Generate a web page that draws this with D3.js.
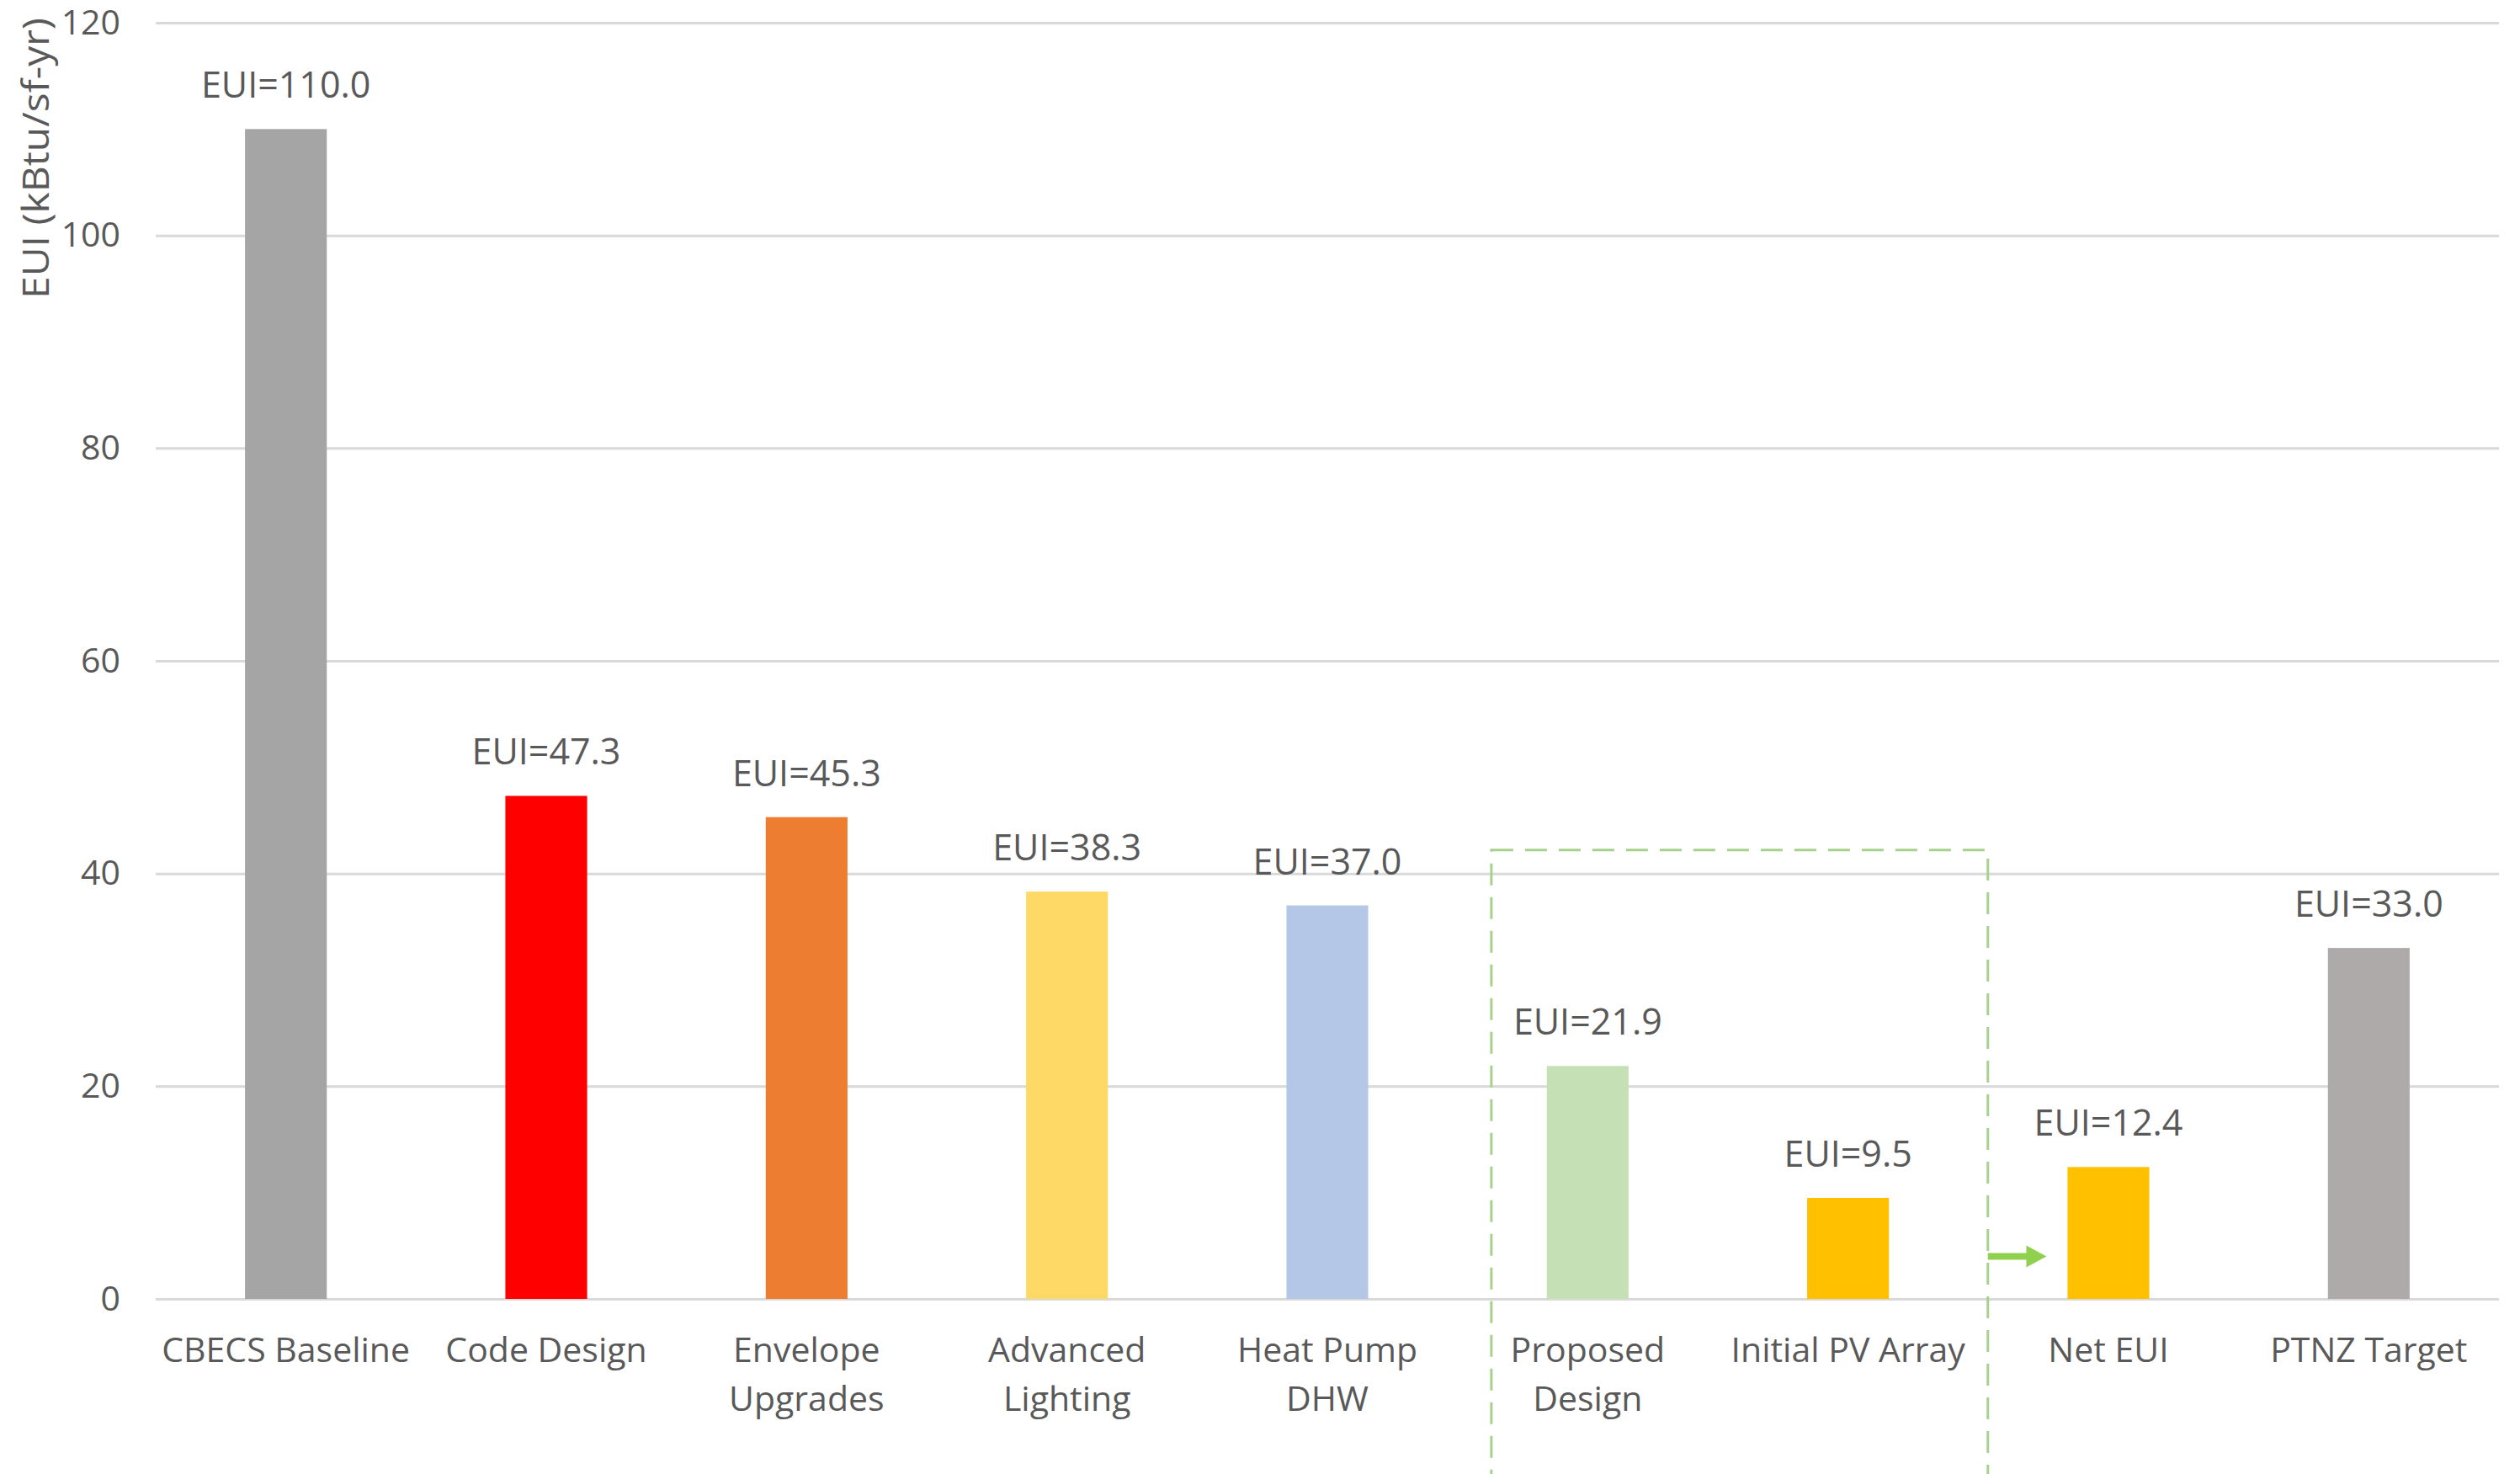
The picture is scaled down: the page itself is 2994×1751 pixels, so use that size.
<!DOCTYPE html>
<html>
<head>
<meta charset="utf-8">
<script src="https://cdn.jsdelivr.net/npm/d3@7.9.0/dist/d3.min.js"></script>
<style>
  body { margin: 0; background: #fff; }
  svg text { font-family: "Open Sans", "DejaVu Sans", sans-serif; fill: #595959; }
</style>
</head>
<body>
<svg id="chart" width="2994" height="1751"></svg>
<script>
// chart data
const categories = ["CBECS Baseline", "Code Design", "Envelope Upgrades", "Advanced Lighting",
  "Heat Pump DHW", "Proposed Design", "Initial PV Array", "Net EUI", "PTNZ Target"];
const categoryLines = [["CBECS Baseline"], ["Code Design"], ["Envelope", "Upgrades"], ["Advanced", "Lighting"],
  ["Heat Pump", "DHW"], ["Proposed", "Design"], ["Initial PV Array"], ["Net EUI"], ["PTNZ Target"]];
const euiValues = [110.0, 47.3, 45.3, 38.3, 37.0, 21.9, 9.5, 12.4, 33.0];
const barColors = ["#A5A5A5", "#FF0000", "#ED7D31", "#FFD966", "#B4C7E7", "#C5E0B4", "#FFC000", "#FFC000", "#AEAAAA"];
const yTicks = [0, 20, 40, 60, 80, 100, 120];
const yTitle = "EUI (kBtu/sf-yr)";

const svg = d3.select('#chart');
const plotLeft = 185, plotRight = 2969, plotTop = 27, plotBottom = 1543;

const x = d3.scaleBand()
  .domain(categories)
  .range([plotLeft, plotRight])
  .paddingInner(0.686)
  .paddingOuter(0.343);

const y = d3.scaleLinear().domain([0, 120]).range([plotBottom, plotTop]);

// gridlines
svg.append('g')
  .attr('transform', `translate(${plotLeft},0)`)
  .call(d3.axisLeft(y).tickValues(yTicks).tickSize(-(plotRight - plotLeft)).tickFormat(''))
  .call(g => g.select('.domain').remove())
  .call(g => g.selectAll('line').attr('stroke', '#D9D9D9').attr('stroke-width', 3));

// y tick labels
svg.append('g')
  .attr('transform', `translate(${plotLeft},0)`)
  .call(d3.axisLeft(y).tickValues(yTicks).tickSize(0).tickPadding(42))
  .call(g => g.select('.domain').remove())
  .call(g => g.selectAll('text')
    .style('font-size', '41px')
    .attr('fill', '#595959'));

// y axis title
svg.append('text')
  .attr('transform', 'translate(58,188) rotate(-90)')
  .attr('text-anchor', 'middle')
  .attr('textLength', 334)
  .attr('lengthAdjust', 'spacingAndGlyphs')
  .style('font-size', '43px')
  .text(yTitle);

// bars
svg.selectAll('rect.bar')
  .data(euiValues)
  .join('rect')
  .attr('class', 'bar')
  .attr('x', (d, i) => x(categories[i]))
  .attr('width', x.bandwidth())
  .attr('y', d => y(d))
  .attr('height', d => y(0) - y(d))
  .attr('fill', (d, i) => barColors[i]);

// value labels
svg.selectAll('text.value')
  .data(euiValues)
  .join('text')
  .attr('class', 'value')
  .attr('x', (d, i) => x(categories[i]) + x.bandwidth() / 2)
  .attr('y', d => y(d) - 37)
  .attr('text-anchor', 'middle')
  .style('font-size', '43px')
  .text(d => `EUI=${d.toFixed(1)}`);

// category labels
const catLabels = svg.selectAll('text.cat')
  .data(categoryLines)
  .join('text')
  .attr('class', 'cat')
  .attr('text-anchor', 'middle')
  .style('font-size', '41px')
  .attr('x', (d, i) => x(categories[i]) + x.bandwidth() / 2)
  .attr('y', plotBottom + 75);

catLabels.selectAll('tspan')
  .data((d, i) => d.map(t => ({ t, cx: x(categories[i]) + x.bandwidth() / 2 })))
  .join('tspan')
  .attr('x', d => d.cx)
  .attr('dy', (d, j) => j === 0 ? 0 : 58)
  .text(d => d.t);

// dashed box around proposed design + PV array
const boxLeft = x("Proposed Design") - x.step() * 0.213;
const boxRight = x("Initial PV Array") + x.bandwidth() + x.step() * 0.38;
svg.append('rect')
  .attr('x', boxLeft)
  .attr('y', y(42.2))
  .attr('width', boxRight - boxLeft)
  .attr('height', 1751)
  .attr('fill', 'none')
  .attr('stroke', '#A9D18E')
  .attr('stroke-width', 3)
  .attr('stroke-dasharray', '26,14');

// green arrow pointing to net EUI
const arrowY = y(4);
const headX = x("Net EUI") - 25;
svg.append('path')
  .attr('d', `M${boxRight},${arrowY - 4} L${headX - 24},${arrowY - 4} L${headX - 24},${arrowY - 13}
    L${headX},${arrowY} L${headX - 24},${arrowY + 13} L${headX - 24},${arrowY + 4} L${boxRight},${arrowY + 4} Z`)
  .attr('fill', '#8FD14F');
</script>
</body>
</html>
